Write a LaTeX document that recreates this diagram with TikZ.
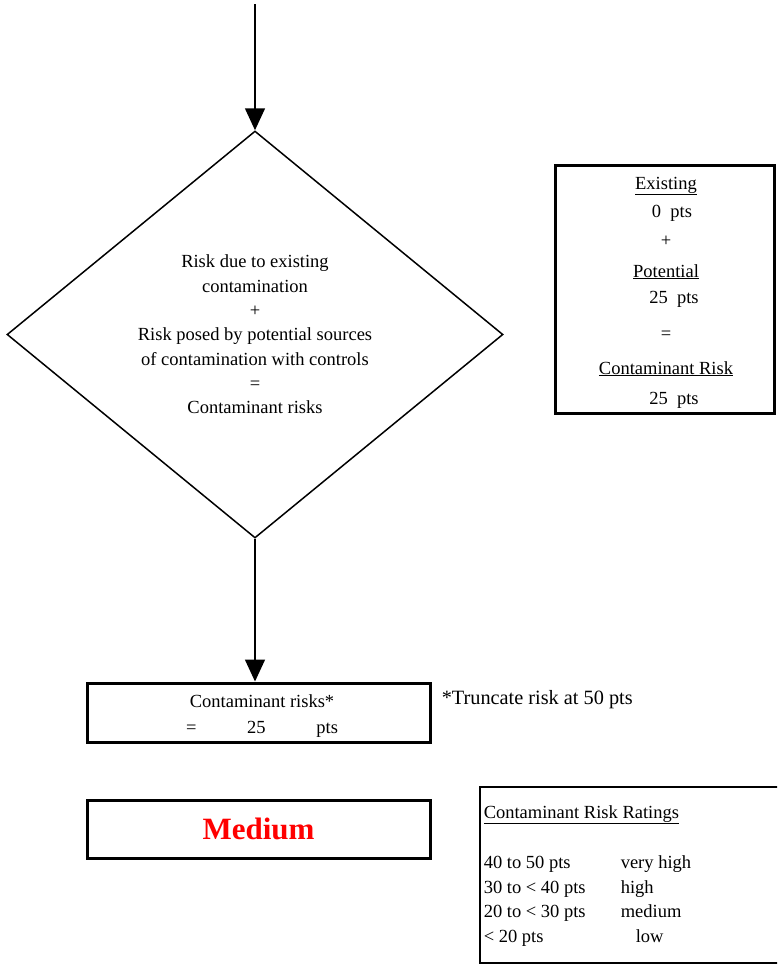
\documentclass[tikz,border=0pt]{standalone}
\usepackage{fontspec}
\setmainfont{Liberation Serif}
\usetikzlibrary{shapes.geometric,arrows.meta,positioning}

\begin{document}
\begin{tikzpicture}[x=1pt,y=-1pt,line width=1.5pt,
    font=\fontsize{18.5}{24.3}\selectfont,
    flow/.style={-{Triangle[width=20pt,length=22pt]}},
    thickbox/.style={draw,line width=3pt,inner sep=0pt,align=center},
    txt/.style={inner sep=0pt,text height=12pt,text depth=0pt}]

    \clip (0,0) rectangle (777,964);

    % decision diamond
    \node[draw,diamond,minimum width=496pt,minimum height=407pt,inner sep=0pt,align=center]
        (dia) at (255,334.5) {Risk due to existing\\contamination\\+\\Risk posed by potential sources\\of contamination with controls\\=\\Contaminant risks};

    \coordinate (entry) at (dia.north |- 0,4);
    \draw[flow] (entry) -- (dia.north);

    % points box
    \node[thickbox,minimum width=219pt,minimum height=248pt] (sum) at (664.5,289) {};
    \node[txt] (sumexist) at (666,183) {\underline{Existing}};
    \node[txt] (sumexistpts) at (672,211) {0\ \ pts};
    \node[txt] (sumplus) at (666,240) {+};
    \node[txt] (sumpot) at (666,271) {\underline{Potential}};
    \node[txt] (sumpotpts) at (674,297) {25\ \ pts};
    \node[txt] (sumeq) at (666,333) {=};
    \node[txt] (sumrisk) at (666,368) {\underline{Contaminant Risk}};
    \node[txt] (sumriskpts) at (674,398) {25\ \ pts};

    % result
    \node[thickbox,minimum width=343pt,minimum height=59pt] (res) at (258.5,712.5) {};
    \node[align=center,inner sep=0pt] (restext) at (262,716)
        {Contaminant risks*\\[1pt]\makebox[152pt][s]{=\hfill 25\hfill pts}};
    \draw[flow] (dia.south) -- (dia.south |- res.north);
    \node[txt,anchor=west,font=\fontsize{20.3}{24}\selectfont] (trunc) at (441,698) {*Truncate risk at 50 pts};

    \node[thickbox,minimum width=343pt,minimum height=58pt,text=red,
        font=\fontsize{31}{36}\selectfont\bfseries] (rating) at (258.5,829) {Medium};

    % rating scale
    \node[draw,minimum width=330pt,minimum height=176pt,anchor=north west] (scale) at (479,786) {};
    \node[txt,anchor=west] (scalehead) at (483,812) {\underline{Contaminant Risk Ratings}};
    \foreach \i/\range/\level/\lx/\y in {1/40 to 50 pts/very high/620/862,
                                        2/30 to < 40 pts/high/620/887,
                                        3/20 to < 30 pts/medium/620/911,
                                        4/< 20 pts/low/635/936}{
        \node[txt,anchor=west] (range\i) at (483,\y) {\range};
        \node[txt,anchor=west] (level\i) at (\lx,\y) {\level};
    }

\end{tikzpicture}
\end{document}
